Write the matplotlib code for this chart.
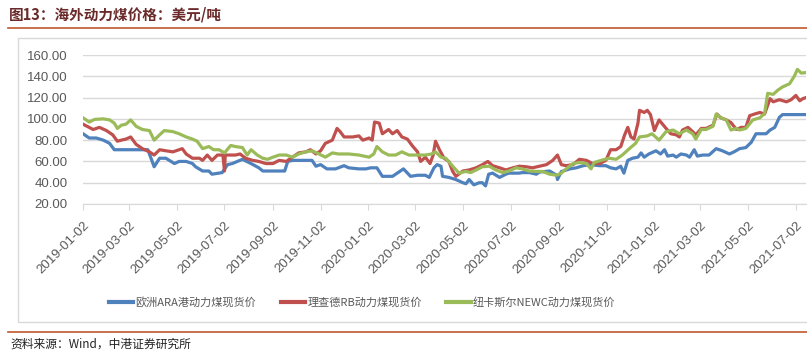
import pandas as pd
import matplotlib
matplotlib.use('Agg')
import matplotlib.pyplot as plt
from matplotlib.lines import Line2D
from matplotlib.patches import Rectangle

plt.rcParams['font.family'] = ['Noto Sans CJK SC', 'DejaVu Sans']

# 欧洲ARA港动力煤现货价
ara_dates = ['2019-01-02', '2019-01-10', '2019-01-19', '2019-01-28', '2019-02-05', '2019-02-11',
             '2019-03-26', '2019-04-03', '2019-04-10', '2019-04-18', '2019-04-29', '2019-05-05',
             '2019-05-14', '2019-05-22', '2019-05-26', '2019-06-04', '2019-06-12', '2019-06-16',
             '2019-06-29', '2019-07-06', '2019-07-12', '2019-07-25', '2019-08-05', '2019-08-15',
             '2019-08-20', '2019-09-17', '2019-09-21', '2019-09-27', '2019-10-22', '2019-10-27',
             '2019-11-02', '2019-11-10', '2019-11-21', '2019-12-02', '2019-12-08', '2019-12-21',
             '2019-12-30', '2020-01-05', '2020-01-13', '2020-01-20', '2020-02-02', '2020-02-10',
             '2020-02-16', '2020-02-25', '2020-03-05', '2020-03-15', '2020-03-20', '2020-03-26',
             '2020-03-30', '2020-04-04', '2020-04-06', '2020-04-14', '2020-04-23', '2020-05-02',
             '2020-05-06', '2020-05-10', '2020-05-16', '2020-05-23', '2020-05-27', '2020-05-31',
             '2020-06-04', '2020-06-09', '2020-06-18', '2020-06-26', '2020-06-30', '2020-07-13',
             '2020-07-17', '2020-07-26', '2020-08-04', '2020-08-08', '2020-08-21', '2020-08-30',
             '2020-08-31', '2020-09-05', '2020-09-16', '2020-09-24', '2020-10-03', '2020-10-11',
             '2020-10-24', '2020-11-01', '2020-11-07', '2020-11-14', '2020-11-20', '2020-11-24',
             '2020-11-29', '2020-12-05', '2020-12-12', '2020-12-16', '2020-12-20', '2020-12-26',
             '2021-01-04', '2021-01-10', '2021-01-15', '2021-01-19', '2021-01-26', '2021-01-30',
             '2021-02-05', '2021-02-12', '2021-02-16', '2021-02-22', '2021-02-26', '2021-03-05',
             '2021-03-13', '2021-03-22', '2021-03-30', '2021-04-08', '2021-04-14', '2021-04-21',
             '2021-04-29', '2021-05-06', '2021-05-12', '2021-05-21', '2021-05-25', '2021-05-30',
             '2021-06-05', '2021-06-11', '2021-06-15', '2021-07-15']
ara_vals = [86, 82, 82, 80, 77, 71,
            71, 55, 63, 63, 58, 60,
            60, 58, 55, 51, 51, 48,
            49.5, 57, 58, 62, 58, 54,
            51, 51, 60, 61, 61, 55.5,
            57, 53, 53, 56, 54, 53,
            53, 54, 54, 46, 46, 50,
            53, 46, 47, 47, 45, 54,
            57, 55.5, 46, 45, 43, 40,
            39, 43, 38, 40, 40, 37,
            48, 49, 45, 48, 49, 49,
            49.5, 49.5, 48, 50, 51, 47,
            43, 50.5, 53, 54, 56, 57,
            56, 56, 54, 53, 55.5, 49,
            61, 63, 64, 68, 64, 67,
            70, 67, 71, 65, 66, 64,
            67, 66, 64, 71, 65, 66,
            66, 72, 70, 67, 69, 72,
            73, 78, 86, 86, 86, 89.5,
            92, 101.5, 104, 104]

# 理查德RB动力煤现货价
rb_dates = ['2019-01-02', '2019-01-15', '2019-01-23', '2019-02-01', '2019-02-09', '2019-02-15',
            '2019-02-20', '2019-02-26', '2019-03-04', '2019-03-11', '2019-03-19', '2019-03-28',
            '2019-04-03', '2019-04-10', '2019-04-18', '2019-04-27', '2019-05-05', '2019-05-09',
            '2019-05-14', '2019-05-22', '2019-05-31', '2019-06-04', '2019-06-10', '2019-06-16',
            '2019-06-23', '2019-06-30', '2019-07-02', '2019-07-03', '2019-07-16', '2019-07-22',
            '2019-07-29', '2019-08-07', '2019-08-15', '2019-08-24', '2019-09-02', '2019-09-10',
            '2019-09-19', '2019-09-27', '2019-10-05', '2019-10-14', '2019-10-20', '2019-10-27',
            '2019-11-02', '2019-11-08', '2019-11-17', '2019-11-23', '2019-11-27', '2019-12-02',
            '2019-12-13', '2019-12-21', '2019-12-26', '2020-01-03', '2020-01-07', '2020-01-10',
            '2020-01-16', '2020-01-20', '2020-01-28', '2020-02-02', '2020-02-08', '2020-02-14',
            '2020-02-21', '2020-02-27', '2020-03-05', '2020-03-09', '2020-03-15', '2020-03-21',
            '2020-03-25', '2020-03-28', '2020-04-02', '2020-04-08', '2020-04-14', '2020-04-19',
            '2020-04-23', '2020-05-02', '2020-05-10', '2020-05-19', '2020-05-27', '2020-06-03',
            '2020-06-09', '2020-06-18', '2020-06-26', '2020-07-05', '2020-07-13', '2020-07-22',
            '2020-07-30', '2020-08-08', '2020-08-17', '2020-08-25', '2020-08-31', '2020-09-05',
            '2020-09-11', '2020-09-20', '2020-09-28', '2020-10-07', '2020-10-15', '2020-10-24',
            '2020-11-01', '2020-11-07', '2020-11-14', '2020-11-20', '2020-11-25', '2020-11-29',
            '2020-12-03', '2020-12-07', '2020-12-12', '2020-12-14', '2020-12-20', '2020-12-24',
            '2020-12-28', '2021-01-02', '2021-01-08', '2021-01-17', '2021-01-23', '2021-01-30',
            '2021-02-03', '2021-02-07', '2021-02-14', '2021-02-20', '2021-02-24', '2021-03-03',
            '2021-03-09', '2021-03-18', '2021-03-23', '2021-03-28', '2021-04-04', '2021-04-10',
            '2021-04-17', '2021-04-23', '2021-04-29', '2021-05-04', '2021-05-10', '2021-05-17',
            '2021-05-23', '2021-05-30', '2021-06-03', '2021-06-11', '2021-06-20', '2021-06-26',
            '2021-07-02', '2021-07-07', '2021-07-11', '2021-07-15']
rb_vals = [95, 90, 92, 89, 85, 79,
           80, 81, 83, 76, 72, 69,
           66, 71, 70, 69, 71, 72,
           67, 63, 63, 61, 66, 61,
           66, 66, 51, 66, 66, 67,
           63, 61, 60, 58, 58, 61,
           60, 64, 68, 69, 71, 67,
           70, 77, 80, 91, 88, 83,
           83, 84, 80, 82, 80, 97,
           96, 86, 90, 86, 89, 83,
           81, 75, 69, 60, 64, 58,
           66, 79, 71, 63, 60, 50.6,
           46, 51, 52, 54, 57, 60,
           56, 54, 52, 54, 55.5, 55,
           54, 55.5, 57, 61, 66, 57,
           56, 57, 62, 61, 58, 58,
           61, 71, 71, 74, 85, 92,
           83, 81, 96, 108, 106, 108,
           104, 89, 99, 91, 86, 85,
           83, 89.5, 92, 88, 85, 91,
           91, 94, 104.5, 101, 99, 96.5,
           90, 92, 92, 103, 104.5, 106,
           104.5, 119, 116, 118, 116, 118,
           122, 117, 119, 120]

# 纽卡斯尔NEWC动力煤现货价
newc_dates = ['2019-01-02', '2019-01-10', '2019-01-17', '2019-01-28', '2019-02-05', '2019-02-11',
              '2019-02-15', '2019-02-20', '2019-02-26', '2019-03-04', '2019-03-11', '2019-03-19',
              '2019-03-28', '2019-04-03', '2019-04-10', '2019-04-16', '2019-04-27', '2019-05-05',
              '2019-05-14', '2019-05-22', '2019-05-28', '2019-06-04', '2019-06-12', '2019-06-18',
              '2019-06-25', '2019-07-02', '2019-07-10', '2019-07-16', '2019-07-25', '2019-07-31',
              '2019-08-05', '2019-08-13', '2019-08-20', '2019-08-26', '2019-09-02', '2019-09-10',
              '2019-09-19', '2019-09-27', '2019-10-05', '2019-10-14', '2019-10-22', '2019-10-31',
              '2019-11-08', '2019-11-17', '2019-11-25', '2019-12-08', '2019-12-21', '2020-01-03',
              '2020-01-09', '2020-01-13', '2020-01-20', '2020-01-28', '2020-02-06', '2020-02-14',
              '2020-02-23', '2020-03-07', '2020-03-15', '2020-03-23', '2020-03-28', '2020-04-04',
              '2020-04-10', '2020-04-19', '2020-04-27', '2020-05-06', '2020-05-12', '2020-05-19',
              '2020-05-27', '2020-06-05', '2020-06-13', '2020-06-22', '2020-06-30', '2020-07-09',
              '2020-07-17', '2020-07-26', '2020-08-04', '2020-08-12', '2020-08-21', '2020-08-30',
              '2020-09-05', '2020-09-11', '2020-09-20', '2020-09-28', '2020-10-07', '2020-10-13',
              '2020-10-17', '2020-10-26', '2020-11-05', '2020-11-14', '2020-11-22', '2020-12-01',
              '2020-12-09', '2020-12-14', '2020-12-24', '2020-12-30', '2021-01-08', '2021-01-17',
              '2021-01-26', '2021-02-03', '2021-02-12', '2021-02-20', '2021-02-24', '2021-03-03',
              '2021-03-09', '2021-03-18', '2021-03-22', '2021-03-28', '2021-04-04', '2021-04-10',
              '2021-04-17', '2021-04-21', '2021-04-29', '2021-05-08', '2021-05-17', '2021-05-23',
              '2021-05-27', '2021-06-03', '2021-06-09', '2021-06-15', '2021-06-24', '2021-06-30',
              '2021-07-04', '2021-07-09', '2021-07-15']
newc_vals = [101, 97, 99.5, 100, 99, 96,
             91, 94, 95, 99, 93, 90,
             89, 80, 85, 89, 88, 86,
             83, 81, 79, 72, 74, 71,
             71, 68, 75, 74, 73, 66,
             71, 66, 63, 62, 64, 66,
             66, 64, 67, 69, 70, 67,
             64, 68, 67, 67, 66, 64,
             67, 74, 69, 66, 66, 69,
             66, 66, 66, 67, 69, 64,
             63, 55.5, 49, 50.6, 49.5, 52,
             55, 55.5, 52, 49.5, 51, 54,
             53, 51, 50.6, 50.6, 48, 47,
             49, 53, 58, 59, 58, 53,
             59, 61, 63, 62, 66, 72,
             77, 83, 84, 86, 80, 88,
             89.5, 86, 89.5, 86, 81, 90,
             90, 93, 104.5, 101, 99, 89.5,
             91, 89.5, 91, 99, 101, 105,
             124, 123, 127, 130, 133, 140,
             146.5, 143, 143.5]

tick_dates = ['2019-01-02', '2019-03-02', '2019-05-02', '2019-07-02', '2019-09-02',
              '2019-11-02', '2020-01-02', '2020-03-02', '2020-05-02', '2020-07-02',
              '2020-09-02', '2020-11-02', '2021-01-02', '2021-03-02', '2021-05-02',
              '2021-07-02']
y_ticks = [20, 40, 60, 80, 100, 120, 140, 160]

series = [
    ('欧洲ARA港动力煤现货价', ara_dates, ara_vals, '#4F81BD'),
    ('理查德RB动力煤现货价', rb_dates, rb_vals, '#C0504D'),
    ('纽卡斯尔NEWC动力煤现货价', newc_dates, newc_vals, '#9BBB59'),
]

W, H = 807, 354
fig = plt.figure(figsize=(W / 100, H / 100), dpi=100)

# page decorations: title, rules, chart frame, source
fig.text(9 / W, 1 - 14 / H, '图13：海外动力煤价格：美元/吨', fontsize=10.5, fontweight='bold',
         color='#6B2A2A', va='center', ha='left')
fig.add_artist(Line2D([8 / W, 1], [1 - 27.5 / H] * 2, color='#C0582F', lw=1.2))
fig.add_artist(Rectangle((17.5 / W, 1 - 321.5 / H), 1, 284 / H, transform=fig.transFigure,
                         fill=False, edgecolor='#D9D9D9', lw=1))
fig.add_artist(Line2D([8 / W, 1], [1 - 331.5 / H] * 2, color='#C0582F', lw=1.2))
fig.text(10 / W, 1 - 344 / H, '资料来源：Wind，中港证券研究所', fontsize=8.5, style='italic',
         color='#222222', va='center', ha='left')

ax = fig.add_axes([83 / W, 1 - 204 / H, 723 / W, 149 / H])
for name, d, v, c in series:
    ax.plot(pd.to_datetime(d), v, color=c, lw=2.3, label=name, solid_joinstyle='round')

ax.set_ylim(20, 160)
ax.set_yticks(y_ticks)
ax.set_yticklabels(['%.2f' % t for t in y_ticks], family='Liberation Sans', fontsize=9.5,
                   color='#595959')
ax.set_xlim(pd.Timestamp('2019-01-02'), pd.Timestamp('2021-07-15'))
ax.set_xticks(pd.to_datetime(tick_dates))
ax.set_xticklabels(tick_dates, rotation=45, ha='right', rotation_mode='anchor',
                   family='Liberation Sans', fontsize=9.5, color='#595959')
ax.grid(axis='y', color='#D9D9D9', lw=1)
ax.set_axisbelow(True)
for s in ['top', 'right', 'left']:
    ax.spines[s].set_visible(False)
ax.spines['bottom'].set_color('#D9D9D9')
ax.tick_params(axis='y', length=0, pad=11)
ax.tick_params(axis='x', length=4, color='#D9D9D9', pad=7)

leg = fig.legend(loc='center', bbox_to_anchor=(362 / W, 1 - 302 / H), ncol=3, frameon=False,
                 fontsize=8, handlelength=2.2, handletextpad=0.2, columnspacing=2.2,
                 labelcolor='#595959')
for h in leg.legend_handles:
    h.set_linewidth(3)

fig.savefig('out.png', dpi=100)
